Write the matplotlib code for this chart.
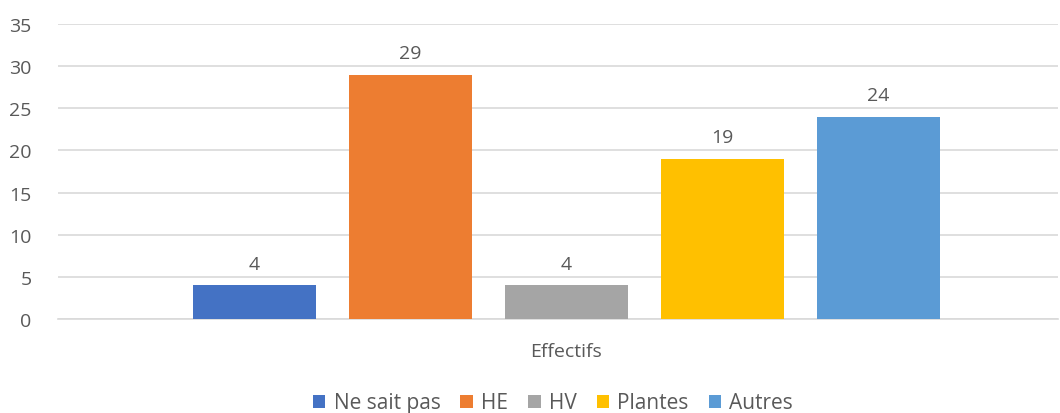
import matplotlib.pyplot as plt
from matplotlib.patches import Patch

# données
series = ["Ne sait pas", "HE", "HV", "Plantes", "Autres"]
values = [4, 29, 4, 19, 24]
colors = ["#4472C4", "#ED7D31", "#A5A5A5", "#FFC000", "#5B9BD5"]
category = "Effectifs"
yticks = [0, 5, 10, 15, 20, 25, 30, 35]

txt = "#595959"
plt.rcParams['font.family'] = ['Open Sans', 'DejaVu Sans']

fig = plt.figure(figsize=(10.6, 4.14), dpi=100)
ax = fig.add_axes([58 / 1060, 94 / 414, 1000 / 1060, 295 / 414])

x = list(range(len(series)))
bars = ax.bar(x, values, width=0.79, color=colors, zorder=3)
for b, v in zip(bars, values):
    ax.text(b.get_x() + b.get_width() / 2, v + 1.5, str(v),
            ha="center", va="bottom", fontsize=14, color=txt)

ax.set_xlim(-1.26, 5.15)
ax.set_ylim(0, 35)
ax.set_yticks(yticks)
ax.set_yticklabels([str(t) for t in yticks], fontsize=14, color=txt)
ax.set_xticks([])
ax.grid(axis="y", color="#D9D9D9", linewidth=1.2, zorder=0)
for s in ["top", "right", "left"]:
    ax.spines[s].set_visible(False)
ax.spines["bottom"].set_color("#D9D9D9")
ax.spines["bottom"].set_linewidth(1.2)
ax.tick_params(axis="y", length=0, pad=19)

fig.text(566 / 1060, 1 - 352 / 414, category, ha="center", va="center",
         fontsize=14, color=txt)

handles = [Patch(facecolor=c, label=s) for c, s in zip(colors, series)]
fig.legend(handles=handles, loc="center", bbox_to_anchor=(553 / 1060, 1 - 404 / 414),
           ncol=5, frameon=False, fontsize=15, labelcolor=txt,
           handlelength=0.6, handleheight=0.6, handletextpad=0.4, columnspacing=0.95,
           borderpad=0)

fig.savefig("out.png", dpi=100)
